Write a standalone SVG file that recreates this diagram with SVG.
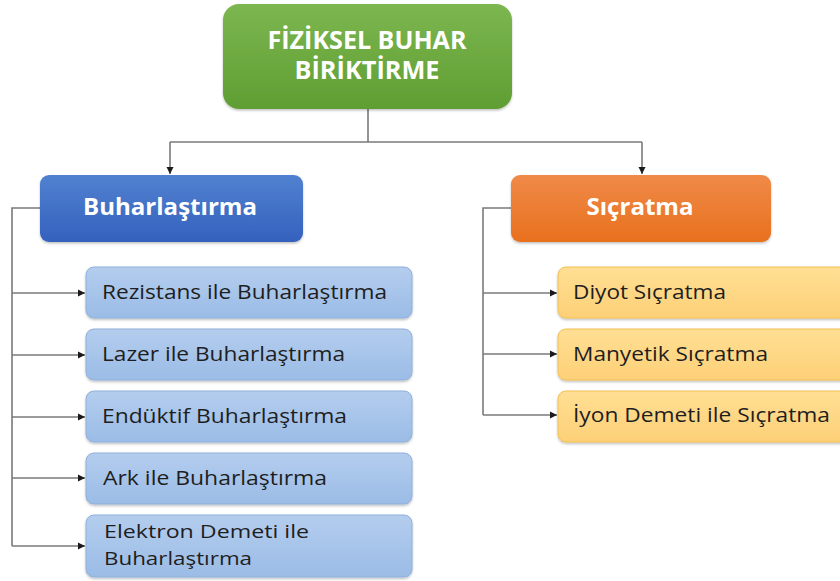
<svg xmlns="http://www.w3.org/2000/svg" width="840" height="581" viewBox="0 0 840 581">
<style>
.t{font-family:"Open Sans","Liberation Sans",sans-serif;}
.hd{font-weight:bold;fill:#ffffff;}
.ch{font-size:20.5px;fill:#1e1e1e;}
.ch2{font-size:19px;fill:#1e1e1e;}
.lb{fill:url(#gBlueL);stroke:#8fb0dc;stroke-width:1;}
.ly{fill:url(#gYel);stroke:#f0c050;stroke-width:1;}
.cn{fill:none;stroke:#7a7a7a;stroke-width:1.6;}
</style>
<defs>
<linearGradient id="gGreen" x1="0" y1="0" x2="0" y2="1"><stop offset="0" stop-color="#7cb650"/><stop offset="1" stop-color="#5f9e32"/></linearGradient>
<linearGradient id="gBlue" x1="0" y1="0" x2="0" y2="1"><stop offset="0" stop-color="#5181d0"/><stop offset="1" stop-color="#3461bd"/></linearGradient>
<linearGradient id="gOrange" x1="0" y1="0" x2="0" y2="1"><stop offset="0" stop-color="#f08a48"/><stop offset="1" stop-color="#e8701e"/></linearGradient>
<linearGradient id="gBlueL" x1="0" y1="0" x2="0" y2="1"><stop offset="0" stop-color="#b4cdee"/><stop offset="1" stop-color="#9bbce6"/></linearGradient>
<linearGradient id="gYel" x1="0" y1="0" x2="0" y2="1"><stop offset="0" stop-color="#ffdf94"/><stop offset="1" stop-color="#fdd077"/></linearGradient>
<marker id="arr" markerWidth="8" markerHeight="8" refX="7" refY="4" orient="auto" markerUnits="userSpaceOnUse"><path d="M0,0.5 L7,4 L0,7.5 Z" fill="#1a1a1a"/></marker>
<filter id="sh" x="-5%" y="-10%" width="110%" height="130%"><feDropShadow dx="0" dy="1.5" stdDeviation="1.2" flood-color="#000" flood-opacity="0.25"/></filter>
</defs>

<g id="connectors">
<path class="cn" d="M368,109 V142"/>
<path class="cn" d="M170,142 H642"/>
<path class="cn" d="M170,142 V174" marker-end="url(#arr)"/>
<path class="cn" d="M642,142 V174" marker-end="url(#arr)"/>
<path class="cn" d="M40,208 H12 V546"/>
<path class="cn" d="M12,293 H85" marker-end="url(#arr)"/>
<path class="cn" d="M12,355 H85" marker-end="url(#arr)"/>
<path class="cn" d="M12,417 H85" marker-end="url(#arr)"/>
<path class="cn" d="M12,478 H85" marker-end="url(#arr)"/>
<path class="cn" d="M12,546 H85" marker-end="url(#arr)"/>
<path class="cn" d="M511,208 H483 V415"/>
<path class="cn" d="M483,293 H557" marker-end="url(#arr)"/>
<path class="cn" d="M483,354 H557" marker-end="url(#arr)"/>
<path class="cn" d="M483,415 H557" marker-end="url(#arr)"/>
</g>

<g id="root">
<rect x="223" y="4" width="289" height="105" rx="16" fill="url(#gGreen)" filter="url(#sh)"/>
<text class="t hd" x="367" y="49" font-size="24.5" text-anchor="middle" textLength="199" lengthAdjust="spacingAndGlyphs">FİZİKSEL BUHAR</text>
<text class="t hd" x="367" y="79" font-size="24.5" text-anchor="middle" textLength="145" lengthAdjust="spacingAndGlyphs">BİRİKTİRME</text>
</g>

<g id="buharlastirma">
<rect x="40" y="175" width="263" height="67" rx="9" fill="url(#gBlue)" filter="url(#sh)"/>
<text class="t hd" x="170" y="215" font-size="23" text-anchor="middle" textLength="174" lengthAdjust="spacingAndGlyphs">Buharlaştırma</text>
</g>

<g id="sicratma">
<rect x="511" y="175" width="260" height="67" rx="9" fill="url(#gOrange)" filter="url(#sh)"/>
<text class="t hd" x="640" y="215" font-size="23" text-anchor="middle" textLength="107" lengthAdjust="spacingAndGlyphs">Sıçratma</text>
</g>

<g id="b1">
<rect class="lb" x="86" y="267" width="326" height="51" rx="8" filter="url(#sh)"/>
<text class="t ch" x="102" y="299" textLength="285" lengthAdjust="spacingAndGlyphs">Rezistans ile Buharlaştırma</text>
</g>
<g id="b2">
<rect class="lb" x="86" y="329" width="326" height="51" rx="8" filter="url(#sh)"/>
<text class="t ch" x="102" y="361" textLength="243" lengthAdjust="spacingAndGlyphs">Lazer ile Buharlaştırma</text>
</g>
<g id="b3">
<rect class="lb" x="86" y="391" width="326" height="51" rx="8" filter="url(#sh)"/>
<text class="t ch" x="102" y="423" textLength="245" lengthAdjust="spacingAndGlyphs">Endüktif Buharlaştırma</text>
</g>
<g id="b4">
<rect class="lb" x="86" y="453" width="326" height="51" rx="8" filter="url(#sh)"/>
<text class="t ch" x="103" y="485" textLength="224" lengthAdjust="spacingAndGlyphs">Ark ile Buharlaştırma</text>
</g>
<g id="b5">
<rect class="lb" x="86" y="515" width="326" height="62" rx="8" filter="url(#sh)"/>
<text class="t ch2" x="104" y="538" textLength="205" lengthAdjust="spacingAndGlyphs">Elektron Demeti ile</text>
<text class="t ch2" x="104" y="565" textLength="148" lengthAdjust="spacingAndGlyphs">Buharlaştırma</text>
</g>

<g id="s1">
<rect class="ly" x="558" y="267" width="300" height="51" rx="8" filter="url(#sh)"/>
<text class="t ch" x="573" y="299" textLength="153" lengthAdjust="spacingAndGlyphs">Diyot Sıçratma</text>
</g>
<g id="s2">
<rect class="ly" x="558" y="329" width="300" height="51" rx="8" filter="url(#sh)"/>
<text class="t ch" x="573" y="361" textLength="195" lengthAdjust="spacingAndGlyphs">Manyetik Sıçratma</text>
</g>
<g id="s3">
<rect class="ly" x="558" y="391" width="300" height="51" rx="8" filter="url(#sh)"/>
<text class="t ch" x="573" y="422" textLength="257" lengthAdjust="spacingAndGlyphs">İyon Demeti ile Sıçratma</text>
</g>
</svg>
